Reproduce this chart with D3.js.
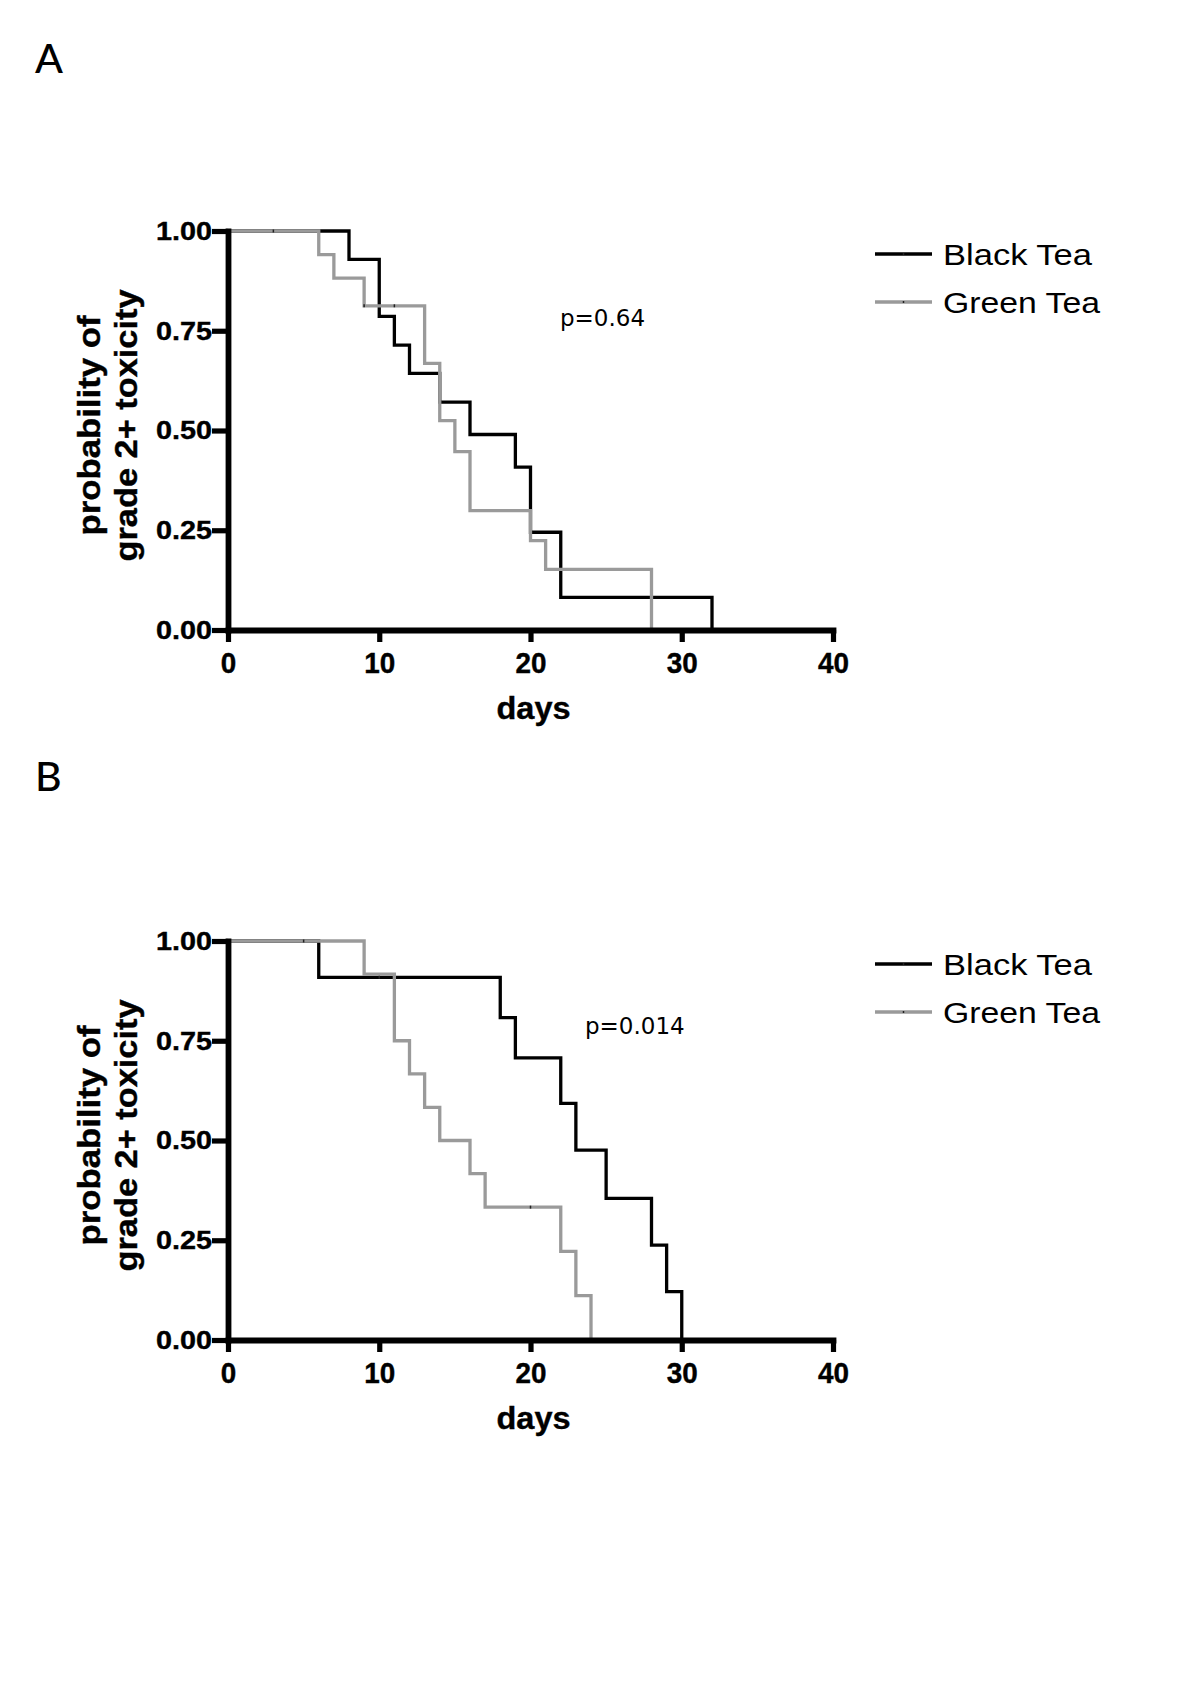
<!DOCTYPE html>
<html>
<head>
<meta charset="utf-8">
<script src="https://cdn.jsdelivr.net/npm/d3@7"></script>
<style>
  html, body { margin: 0; padding: 0; background: #fff; }
  svg { display: block; }
</style>
</head>
<body>
<script>
// ---------- data ----------
const dayTicks = [0, 10, 20, 30, 40];
const probTicks = [0, 0.25, 0.5, 0.75, 1];
const yTickLabels = ["0.00", "0.25", "0.50", "0.75", "1.00"];
const seriesNames = ["Black Tea", "Green Tea"];

// Panel A (Kaplan-Meier step points: time, probability)
const blackA_days = [0, 8, 10, 11, 12, 14, 16, 19, 20, 22, 32];
const blackA_prob = [1, 0.929, 0.786, 0.714, 0.643, 0.571, 0.49, 0.408, 0.245, 0.082, 0];
const greenA_days = [0, 6, 7, 9, 13, 14, 15, 16, 20, 21, 28];
const greenA_prob = [1, 0.941, 0.882, 0.8125, 0.668, 0.525, 0.447, 0.299, 0.224, 0.152, 0];
const blackA_censor_days = [3];
const blackA_censor_prob = [1];
const greenA_censor_days = [9, 11];
const greenA_censor_prob = [0.8125, 0.8125];
const pA = "p=0.64";

// Panel B
const blackB_days = [0, 6, 18, 19, 22, 23, 25, 28, 29, 30];
const blackB_prob = [1, 0.909, 0.808, 0.707, 0.593, 0.476, 0.355, 0.238, 0.121, 0];
const greenB_days = [0, 9, 11, 12, 13, 14, 16, 17, 22, 23, 24];
const greenB_prob = [1, 0.917, 0.75, 0.667, 0.583, 0.5, 0.417, 0.333, 0.222, 0.111, 0];
const blackB_censor_days = [5, 10];
const blackB_censor_prob = [1, 0.909];
const greenB_censor_days = [20];
const greenB_censor_prob = [0.333];
const pB = "p=0.014";

// ---------- drawing ----------
const W = 1200, H = 1698;
const svg = d3.select("body").append("svg").attr("width", W).attr("height", H);

const BLACK = "#000000", GREY = "#9a9a9a";
const AXF = "'Liberation Sans', Arial, sans-serif";

function zip(a, b) { return a.map((d, i) => [d, b[i]]); }

function panel(opt) {
  const x = d3.scaleLinear().domain([0, 40]).range([228, 833]);
  const y = d3.scaleLinear().domain([0, 1]).range([opt.y0, opt.y0 - 399]);
  const g = svg.append("g");

  // panel letter
  svg.append("text").attr("x", 35).attr("y", opt.letterY)
    .attr("font-family", "Lato, 'Open Sans', sans-serif").attr("font-size", 41)
    .attr("font-weight", 500).attr("fill", "#000").text(opt.letter);

  // curves (black first, grey on top)
  const line = d3.line().x(d => x(d[0])).y(d => y(d[1])).curve(d3.curveStepAfter);
  const curves = [
    { pts: zip(opt.bd, opt.bp), color: BLACK, cd: opt.bcd, cp: opt.bcp },
    { pts: zip(opt.gd, opt.gp), color: GREY, cd: opt.gcd, cp: opt.gcp }
  ];
  curves.forEach(c => {
    g.append("path").attr("d", line(c.pts)).attr("fill", "none")
      .attr("stroke", c.color).attr("stroke-width", 3.3);
  });
  curves.forEach(c => {
    g.selectAll(null).data(zip(c.cd, c.cp)).enter().append("line")
      .attr("x1", d => x(d[0])).attr("x2", d => x(d[0]))
      .attr("y1", d => y(d[1]) - 1.5).attr("y2", d => y(d[1]) + 1.5)
      .attr("stroke", "#222").attr("stroke-width", 1.5);
  });

  // axes
  const yAxis = d3.axisLeft(y).tickValues(probTicks)
    .tickFormat((d, i) => yTickLabels[i]).tickSize(16).tickSizeOuter(0).tickPadding(0);
  const ya = g.append("g").attr("transform", `translate(${x(0)},0)`).call(yAxis);
  const xAxis = d3.axisBottom(x).tickValues(dayTicks).tickSize(12).tickSizeOuter(0).tickPadding(10);
  const xa = g.append("g").attr("transform", `translate(0,${y(0)})`).call(xAxis);

  [ya, xa].forEach(a => {
    a.select(".domain").attr("stroke", "#000").attr("stroke-width", 5.8).attr("stroke-linecap", "square");
    a.selectAll(".tick line").attr("stroke", "#000").attr("stroke-width", 5.2);
  });
  ya.selectAll(".tick text").attr("font-family", AXF).attr("font-weight", "bold")
    .attr("font-size", 26).attr("fill", "#000").attr("stroke", "#000").attr("stroke-width", 0.4)
    .attr("textLength", 56).attr("lengthAdjust", "spacingAndGlyphs");
  xa.selectAll(".tick text").attr("font-family", AXF).attr("font-weight", "bold")
    .attr("font-size", 29).attr("fill", "#000").attr("stroke", "#000").attr("stroke-width", 0.4)
    .attr("textLength", d => String(d).length * 15.5).attr("lengthAdjust", "spacingAndGlyphs");

  // axis titles
  g.append("text").attr("x", (x(0) + x(40)) / 2 + 3).attr("y", y(0) + 89)
    .attr("text-anchor", "middle").attr("font-family", AXF).attr("font-weight", "bold")
    .attr("font-size", 32).attr("fill", "#000").attr("stroke", "#000").attr("stroke-width", 0.4)
    .attr("textLength", 74).attr("lengthAdjust", "spacingAndGlyphs").text("days");

  const cy = (y(0) + y(1)) / 2 - 5;
  const yt = g.append("text").attr("transform", `translate(100,${cy}) rotate(-90)`)
    .attr("text-anchor", "middle").attr("font-family", AXF).attr("font-weight", "bold")
    .attr("font-size", 31).attr("fill", "#000").attr("stroke", "#000").attr("stroke-width", 0.4);
  yt.append("tspan").attr("x", 0).attr("y", 0).attr("textLength", 220)
    .attr("lengthAdjust", "spacingAndGlyphs").text("probability of");
  yt.append("tspan").attr("x", 0).attr("y", 37).attr("textLength", 272)
    .attr("lengthAdjust", "spacingAndGlyphs").text("grade 2+ toxicity");

  // p-value
  g.append("text").attr("x", opt.pX).attr("y", opt.pY)
    .attr("font-family", "'DejaVu Sans', sans-serif").attr("font-size", 23)
    .attr("fill", "#000").text(opt.p);

  // legend
  const lg = g.append("g");
  seriesNames.forEach((name, i) => {
    const ly = opt.legY + i * 48;
    const col = i === 0 ? BLACK : GREY;
    lg.append("line").attr("x1", 875).attr("x2", 932).attr("y1", ly).attr("y2", ly)
      .attr("stroke", col).attr("stroke-width", 3.3);
    lg.append("line").attr("x1", 903.5).attr("x2", 903.5).attr("y1", ly - 1).attr("y2", ly + 1)
      .attr("stroke", "#222").attr("stroke-width", 1.5);
    lg.append("text").attr("x", 943).attr("y", ly + 11)
      .attr("font-family", AXF).attr("font-size", 30).attr("fill", "#000")
      .attr("textLength", i === 0 ? 149 : 157).attr("lengthAdjust", "spacingAndGlyphs")
      .text(name);
  });
}

panel({
  letter: "A", letterY: 73, y0: 630,
  bd: blackA_days, bp: blackA_prob, gd: greenA_days, gp: greenA_prob,
  bcd: blackA_censor_days, bcp: blackA_censor_prob, gcd: greenA_censor_days, gcp: greenA_censor_prob,
  p: pA, pX: 560, pY: 326, legY: 254
});
panel({
  letter: "B", letterY: 791, y0: 1340,
  bd: blackB_days, bp: blackB_prob, gd: greenB_days, gp: greenB_prob,
  bcd: blackB_censor_days, bcp: blackB_censor_prob, gcd: greenB_censor_days, gcp: greenB_censor_prob,
  p: pB, pX: 585, pY: 1034, legY: 964
});
</script>
</body>
</html>
